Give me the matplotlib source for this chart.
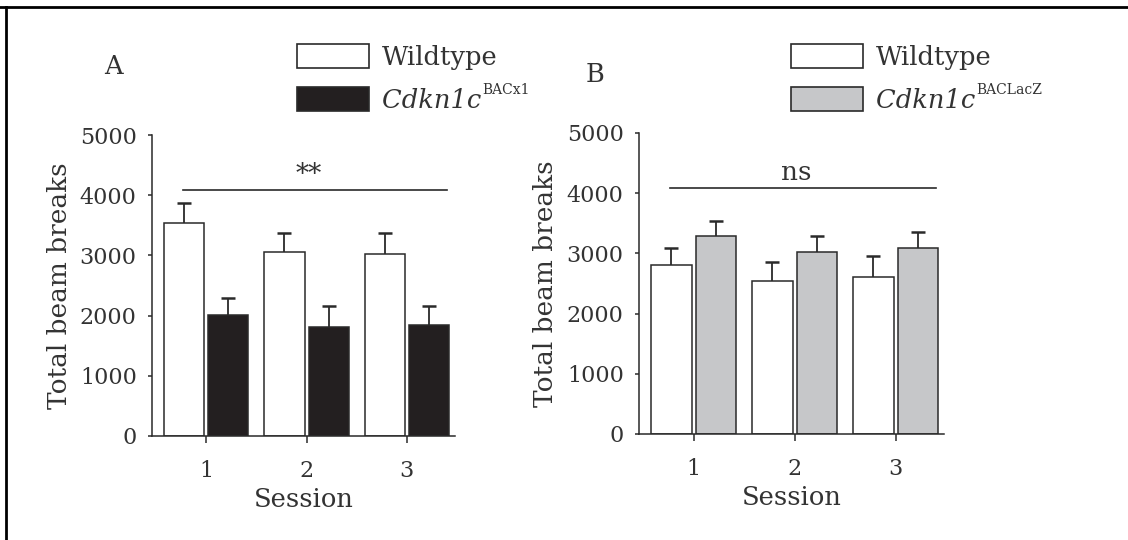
import numpy as np
import matplotlib.pyplot as plt
from matplotlib.lines import Line2D
from matplotlib.patches import Rectangle

plt.rcParams['font.family'] = ['DejaVu Serif']
plt.rcParams['text.color'] = '#333333'
plt.rcParams['axes.labelcolor'] = '#333333'
plt.rcParams['xtick.color'] = '#2b2b2b'
plt.rcParams['ytick.color'] = '#2b2b2b'
plt.rcParams['xtick.labelcolor'] = '#333333'
plt.rcParams['ytick.labelcolor'] = '#333333'

sessions = [1, 2, 3]

# panel A
wt_a = [3540, 3050, 3025]
wt_a_err = [330, 325, 350]
bac_a = [2010, 1815, 1850]
bac_a_err = [280, 350, 315]

# panel B
wt_b = [2800, 2545, 2610]
wt_b_err = [295, 320, 350]
lacz_b = [3285, 3025, 3090]
lacz_b_err = [260, 260, 260]

BLACK = '#231f20'
GREY = '#c6c7c9'
EDGE = '#2a2a2a'
W = 0.4


def up_errbar(ax, x, y, err):
  eb = ax.errorbar(x, y, yerr=[np.zeros(len(y)), err], fmt='none', ecolor=EDGE,
                   elinewidth=1.3, capsize=5, capthick=1.8, zorder=3)
  # drop the lower cap, only the upper half is drawn
  eb[1][0].set_visible(False)


def draw_panel(ax, wt, wt_err, mut, mut_err, mut_color, sig):
  x = np.array(sessions)
  ax.bar(x - 0.22, wt, W, color='white', edgecolor=EDGE, linewidth=1.1, zorder=2)
  ax.bar(x + 0.22, mut, W, color=mut_color, edgecolor=EDGE, linewidth=1.1, zorder=2)
  up_errbar(ax, x - 0.22, wt, wt_err)
  up_errbar(ax, x + 0.22, mut, mut_err)
  ax.plot([0.77, 3.40], [4080, 4080], color=EDGE, lw=1.2)
  ax.text(2.02, 4215, sig, ha='center', va='baseline', fontsize=19)

  ax.set_xlim(0.46, 3.48)
  ax.set_ylim(0, 5000)
  ax.set_xticks(sessions)
  ax.set_yticks([0, 1000, 2000, 3000, 4000, 5000])
  ax.spines['top'].set_visible(False)
  ax.spines['right'].set_visible(False)
  for s in ['left', 'bottom']:
    ax.spines[s].set_linewidth(1.1)
    ax.spines[s].set_color(EDGE)
  ax.tick_params(axis='y', direction='out', length=3, width=1.1, pad=8, labelsize=16)
  ax.tick_params(axis='x', direction='out', length=5, width=1.1, pad=12, labelsize=16)
  ax.set_xlabel('Session', fontsize=18.5)
  ax.set_ylabel('Total beam breaks', fontsize=19)
  ax.xaxis.set_label_coords(0.5, -0.17)
  ax.yaxis.set_label_coords(-0.265, 0.5)


def legend(fig, ax, x0, y0, mut_color, sup):
  # x0, y0: top-left of the first box in pixels
  fw, fh = 1128, 540
  for i, (fc, ytop) in enumerate([('white', y0), (mut_color, y0 + 43)]):
    fig.add_artist(Rectangle((x0 / fw, 1 - (ytop + 24) / fh), 72 / fw, 24 / fh,
                             transform=fig.transFigure, facecolor=fc,
                             edgecolor=EDGE, linewidth=1.2))
  fig.text((x0 + 85) / fw, 1 - (y0 + 21) / fh, 'Wildtype', fontsize=18.5, va='baseline')
  t = fig.text((x0 + 85) / fw, 1 - (y0 + 64) / fh, 'Cdkn1c', fontsize=18.5,
               style='italic', va='baseline')
  ax.annotate(sup, xy=(1.0, 0.62), xycoords=t, xytext=(1, 0), textcoords='offset points',
              fontsize=10, va='bottom', ha='left', annotation_clip=False)


fig = plt.figure(figsize=(11.28, 5.4), dpi=100)
ax_a = fig.add_axes([152 / 1128, 1 - 436 / 540, 303 / 1128, 301 / 540])
ax_b = fig.add_axes([639 / 1128, 1 - 434 / 540, 305 / 1128, 301 / 540])

draw_panel(ax_a, wt_a, wt_a_err, bac_a, bac_a_err, BLACK, '**')
draw_panel(ax_b, wt_b, wt_b_err, lacz_b, lacz_b_err, GREY, 'ns')

legend(fig, ax_a, 297, 44, BLACK, 'BACx1')
legend(fig, ax_b, 791, 44, GREY, 'BACLacZ')

fig.text(113 / 1128, 1 - 74 / 540, 'A', fontsize=18.5, ha='center', va='baseline')
fig.text(595 / 1128, 1 - 82 / 540, 'B', fontsize=18.5, ha='center', va='baseline')

# frame lines (top and left)
fig.add_artist(Line2D([0, 1], [1 - 7 / 540, 1 - 7 / 540], transform=fig.transFigure,
                      color='black', lw=2))
fig.add_artist(Line2D([6 / 1128, 6 / 1128], [0, 1 - 7 / 540], transform=fig.transFigure,
                      color='black', lw=2))

fig.savefig('out.png', dpi=100)
